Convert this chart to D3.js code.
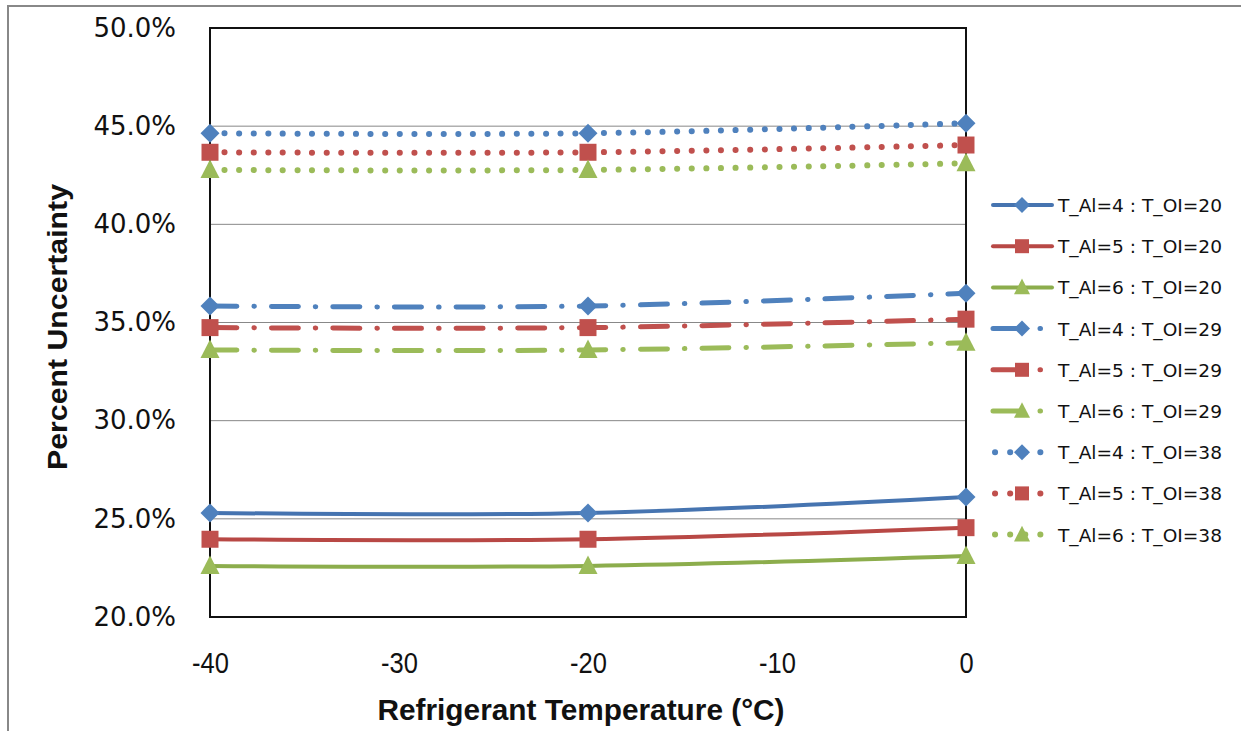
<!DOCTYPE html>
<html>
<head>
<meta charset="utf-8">
<script src="https://cdn.jsdelivr.net/npm/d3@7"></script>
<style>
body { margin: 0; background: #fff; }
</style>
</head>
<body>
<svg id="chart" width="1241" height="731"></svg>
<script>
// chart data
var temps = [-40, -20, 0];
var seriesNames = [
  "T_Al=4 : T_OI=20", "T_Al=5 : T_OI=20", "T_Al=6 : T_OI=20",
  "T_Al=4 : T_OI=29", "T_Al=5 : T_OI=29", "T_Al=6 : T_OI=29",
  "T_Al=4 : T_OI=38", "T_Al=5 : T_OI=38", "T_Al=6 : T_OI=38"
];
var al4_oi20 = [25.30, 25.30, 26.11];
var al5_oi20 = [23.96, 23.96, 24.55];
var al6_oi20 = [22.60, 22.60, 23.11];
var al4_oi29 = [35.84, 35.84, 36.49];
var al5_oi29 = [34.74, 34.74, 35.17];
var al6_oi29 = [33.60, 33.60, 33.97];
var al4_oi38 = [44.64, 44.64, 45.15];
var al5_oi38 = [43.67, 43.67, 44.04];
var al6_oi38 = [42.77, 42.77, 43.11];
var yTicks = [20, 25, 30, 35, 40, 45, 50];
var xTicks = [-40, -30, -20, -10, 0];

var values = [al4_oi20, al5_oi20, al6_oi20, al4_oi29, al5_oi29, al6_oi29, al4_oi38, al5_oi38, al6_oi38];

// styles per series
var markerColors = ["#4F81BD", "#C0504D", "#9BBB59"];
var solidColors = ["#4674B0", "#B84845", "#8CAD4C"];
var shapes = ["diamond", "square", "triangle"];
var dashes = [null, "27,17,0.5,17", "0.1,14.5"];
var widths = [4, 5, 6];

var margin = {top: 28, right: 275, bottom: 114, left: 210},
    width = 1241 - margin.left - margin.right,
    height = 731 - margin.top - margin.bottom;

var x = d3.scaleLinear().domain([-40, 0]).range([0, width]);
var y = d3.scaleLinear().domain([20, 50]).range([height, 0]);

var svg = d3.select("#chart");

// outer chart border
svg.append("rect")
    .attr("x", 8).attr("y", 6)
    .attr("width", 1400).attr("height", 900)
    .attr("fill", "none")
    .attr("stroke", "#888")
    .attr("stroke-width", 2);

var g = svg.append("g")
    .attr("transform", "translate(" + margin.left + "," + margin.top + ")");

// gridlines
g.selectAll(".grid")
    .data(yTicks)
  .enter().append("line")
    .attr("x1", 0).attr("x2", width)
    .attr("y1", function(d) { return y(d); })
    .attr("y2", function(d) { return y(d); })
    .attr("stroke", "#888")
    .attr("stroke-width", 1);

// plot area frame
g.append("rect")
    .attr("width", width).attr("height", height)
    .attr("fill", "none")
    .attr("stroke", "#111")
    .attr("stroke-width", 2);

// Y axis
var yAxis = g.append("g")
    .call(d3.axisLeft(y).tickValues(yTicks).tickSize(0).tickPadding(34)
      .tickFormat(function(d) { return d.toFixed(1) + "%"; }));
yAxis.select(".domain").remove();
yAxis.selectAll("text")
    .attr("font-family", "DejaVu Sans")
    .attr("font-size", 26)
    .attr("fill", "#111");

// X axis
var xAxis = g.append("g")
    .attr("transform", "translate(0," + height + ")")
    .call(d3.axisBottom(x).tickValues(xTicks).tickSize(0).tickPadding(35)
      .tickFormat(function(d) { return String(d); }));
xAxis.select(".domain").remove();
xAxis.selectAll("text")
    .attr("font-family", "Liberation Sans")
    .attr("font-size", 30)
    .attr("fill", "#111")
    .attr("transform", "scale(0.85,1)");

// axis titles
svg.append("text")
    .attr("x", 581).attr("y", 720)
    .attr("text-anchor", "middle")
    .attr("font-family", "Liberation Sans")
    .attr("font-weight", "bold")
    .attr("font-size", 29)
    .attr("textLength", 407)
    .attr("lengthAdjust", "spacingAndGlyphs")
    .attr("fill", "#111")
    .text("Refrigerant Temperature (°C)");

svg.append("text")
    .attr("transform", "translate(67,327) rotate(-90)")
    .attr("text-anchor", "middle")
    .attr("font-family", "Liberation Sans")
    .attr("font-weight", "bold")
    .attr("font-size", 27)
    .attr("textLength", 286)
    .attr("lengthAdjust", "spacingAndGlyphs")
    .attr("fill", "#111")
    .text("Percent Uncertainty");

function markerPath(shape, r) {
  if (shape === "diamond") return "M0," + (-r) + "L" + r + ",0L0," + r + "L" + (-r) + ",0Z";
  if (shape === "square") return "M" + (-r) + "," + (-r) + "H" + r + "V" + r + "H" + (-r) + "Z";
  return "M0," + (-r * 1.1) + "L" + r + "," + (r * 0.85) + "L" + (-r) + "," + (r * 0.85) + "Z";
}
var markerSize = {diamond: 9.5, square: 8.5, triangle: 9.5};

var line = d3.line()
    .x(function(d, i) { return x(temps[i]); })
    .y(function(d) { return y(d); })
    .curve(d3.curveCatmullRom.alpha(0.5));

values.forEach(function(vals, k) {
  var c = k % 3, grp = Math.floor(k / 3);
  var col = grp === 0 ? solidColors[c] : markerColors[c];
  g.append("path")
      .datum(vals)
      .attr("d", line)
      .attr("fill", "none")
      .attr("stroke", col)
      .attr("stroke-width", widths[grp])
      .attr("stroke-linecap", "round")
      .attr("stroke-dasharray", dashes[grp]);
  g.selectAll(".m" + k)
      .data(vals)
    .enter().append("path")
      .attr("transform", function(d, i) { return "translate(" + x(temps[i]) + "," + y(d) + ")"; })
      .attr("d", markerPath(shapes[c], markerSize[shapes[c]]))
      .attr("fill", markerColors[c]);
});

// legend
var legendDash = [null, "30,17,0.5,30", "0.1,15"];
var legend = svg.append("g").attr("transform", "translate(993,205)");
seriesNames.forEach(function(name, k) {
  var c = k % 3, grp = Math.floor(k / 3);
  var col = grp === 0 ? solidColors[c] : markerColors[c];
  var row = legend.append("g").attr("transform", "translate(0," + (k * 41.2) + ")");
  row.append("line")
      .attr("x1", grp === 2 ? 2 : 0).attr("x2", grp === 2 ? 50 : 59)
      .attr("stroke", col)
      .attr("stroke-width", widths[grp])
      .attr("stroke-linecap", "round")
      .attr("stroke-dasharray", legendDash[grp]);
  row.append("path")
      .attr("transform", "translate(29,0)")
      .attr("d", markerPath(shapes[c], shapes[c] === "square" ? 7 : 8))
      .attr("fill", markerColors[c]);
  row.append("text")
      .attr("x", 65).attr("y", 7)
      .attr("font-family", "DejaVu Sans")
      .attr("font-size", 18)
      .attr("textLength", 164)
      .attr("lengthAdjust", "spacingAndGlyphs")
      .attr("fill", "#111")
      .text(name);
});
</script>
</body>
</html>
